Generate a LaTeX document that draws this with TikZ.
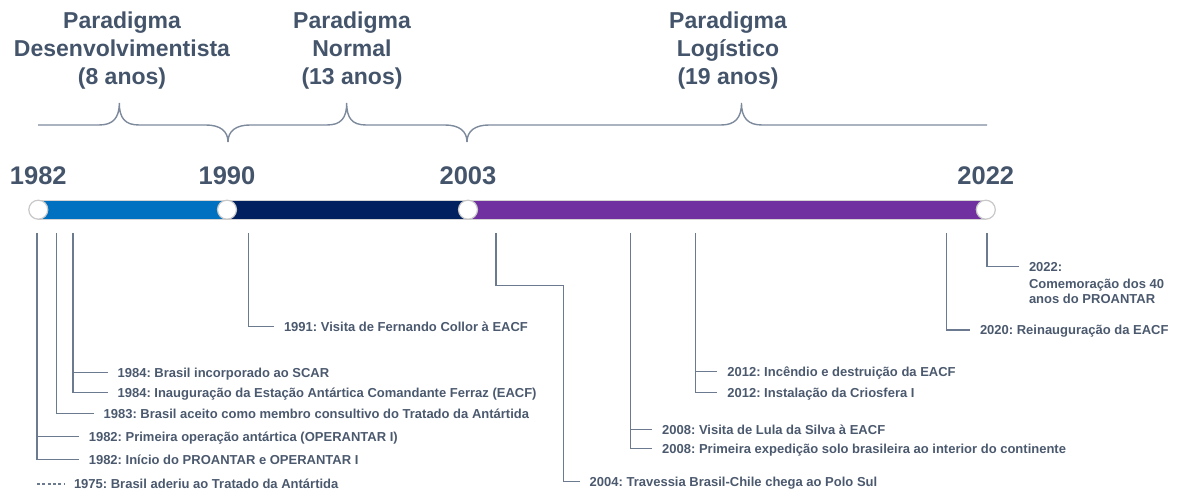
\documentclass[tikz,border=0pt]{standalone}
\usepackage{fontspec}
\setmainfont{Liberation Sans}
\frenchspacing
\definecolor{slate}{HTML}{44546A}
\definecolor{labc}{HTML}{4B596E}
\definecolor{linec}{HTML}{6B7A8F}
\definecolor{bracec}{HTML}{7D8A9C}
\definecolor{dotc}{HTML}{C8C8C8}
\definecolor{barline}{HTML}{D4D4D4}
\definecolor{barb}{HTML}{0070C0}
\definecolor{barn}{HTML}{002060}
\definecolor{barp}{HTML}{7030A0}
\begin{document}
\begin{tikzpicture}[x=1pt,y=-1pt,
  ttl/.style={font=\bfseries\fontsize{23}{28.3}\selectfont, text=slate, align=center, inner sep=0pt, anchor=north},
  yr/.style={font=\bfseries\fontsize{25.5}{30}\selectfont, text=slate, inner sep=0pt, anchor=base},
  lab/.style={font=\bfseries\fontsize{13}{15.8}\selectfont, text=labc, inner sep=0pt, outer sep=10pt, anchor=west, text height=9.4pt, text depth=0pt},
  conn/.style={draw=linec, line width=1.2pt},
  brace/.style={draw=bracec, line width=1.4pt},
  dot/.style={circle, fill=white, draw=dotc, line width=1.2pt, minimum size=19pt, inner sep=0pt}
]
\useasboundingbox (0,0) rectangle (1179,495);

% titles
\node[ttl] (t1) at (122,11.5) {Paradigma\\Desenvolvimentista\\(8 anos)};
\node[ttl] (t2) at (352,11.5) {Paradigma\\Normal\\(13 anos)};
\node[ttl] (t3) at (728,11.5) {Paradigma\\Logístico\\(19 anos)};

% braces
\draw[brace] (38,125) -- (99,125) .. controls (113,125) and (119.3,118) .. (119.3,103)
  .. controls (119.3,118) and (125,125) .. (139,125) -- (206,125)
  .. controls (220,125) and (228,131) .. (228,142);
\draw[brace] (228,142) .. controls (228,131) and (236,125) .. (250,125) -- (327,125)
  .. controls (341,125) and (346.7,118) .. (346.7,103)
  .. controls (346.7,118) and (352,125) .. (366,125) -- (445,125)
  .. controls (459,125) and (467,131) .. (467,142);
\draw[brace] (467,142) .. controls (467,131) and (475,125) .. (489,125) -- (721,125)
  .. controls (735,125) and (741.5,118) .. (741.5,103)
  .. controls (741.5,118) and (748,125) .. (762,125) -- (987,125);

% years
\node[yr] (y1982) at (38.3,184) {1982};
\node[yr] (y1990) at (227,184) {1990};
\node[yr] (y2003) at (468,184) {2003};
\node[yr] (y2022) at (985.8,184) {2022};

% bar
\coordinate (p1982) at (38.3,209.7);
\coordinate (p1990) at (227,209.7);
\coordinate (p2003) at (468,209.7);
\coordinate (p2022) at (985.8,209.7);
\draw[barline, line width=20pt] (p1982) -- (p2022);
\draw[barb, line width=18pt] (p1982) -- (p1990);
\draw[barn, line width=18pt] (p1990) -- (p2003);
\draw[barp, line width=18pt] (p2003) -- (p2022);
\node[dot] (c1982) at (p1982) {};
\node[dot] (c1990) at (p1990) {};
\node[dot] (c2003) at (p2003) {};
\node[dot] (c2022) at (p2022) {};

% tick tops
\coordinate (k1982) at (37,233);
\coordinate (k1983) at (56.6,233);
\coordinate (k1984) at (72.9,233);
\coordinate (k1991) at (248.6,233);
\coordinate (k2004) at (496,233);
\coordinate (b2004) at (563.5,285.5);
\coordinate (k2008) at (630.8,233);
\coordinate (k2012) at (695.8,233);
\coordinate (k2020) at (946.6,233);
\coordinate (k2022) at (987,233);
\coordinate (d1975) at (37,484);

% labels
\node[lab] (l1991) at (274,326.7) {1991: Visita de Fernando Collor à EACF};
\node[lab] (l1984a) at (107.6,372.7) {1984: Brasil incorporado ao SCAR};
\node[lab] (l1984b) at (107.6,392.7) {1984: Inauguração da Estação Antártica Comandante Ferraz (EACF)};
\node[lab] (l1983) at (93.6,413.3) {1983: Brasil aceito como membro consultivo do Tratado da Antártida};
\node[lab] (l1982a) at (78.8,436.7) {1982: Primeira operação antártica (OPERANTAR I)};
\node[lab] (l1982b) at (78.8,459.3) {1982: Início do PROANTAR e OPERANTAR I};
\node[lab] (l1975) at (64,484) {1975: Brasil aderiu ao Tratado da Antártida};
\node[lab] (l2004) at (579.7,481.7) {2004: Travessia Brasil-Chile chega ao Polo Sul};
\node[lab] (l2008a) at (652.2,429.3) {2008: Visita de Lula da Silva à EACF};
\node[lab] (l2008b) at (652.2,448.3) {2008: Primeira expedição solo brasileira ao interior do continente};
\node[lab] (l2012a) at (717.4,371.7) {2012: Incêndio e destruição da EACF};
\node[lab] (l2012b) at (717.4,392.7) {2012: Instalação da Criosfera I};
\node[lab] (l2020) at (970,330) {2020: Reinauguração da EACF};
\node[lab] (l2022) at (1019,266.7) {2022:};
\node[lab] (l2022b) at (1019,283.3) {Comemoração dos 40};
\node[lab] (l2022c) at (1019,298.3) {anos do PROANTAR};

% connectors
\draw[conn] (k1982) |- (l1982a.west);
\draw[conn] (k1982) |- (l1982b.west);
\draw[conn] (k1983) |- (l1983.west);
\draw[conn] (k1984) |- (l1984a.west);
\draw[conn] (k1984) |- (l1984b.west);
\draw[conn] (k1991) |- (l1991.west);
\draw[conn] (k2004) |- (b2004) |- (l2004.west);
\draw[conn] (k2008) |- (l2008a.west);
\draw[conn] (k2008) |- (l2008b.west);
\draw[conn] (k2012) |- (l2012a.west);
\draw[conn] (k2012) |- (l2012b.west);
\draw[conn] (k2020) |- (l2020.west);
\draw[conn] (k2022) |- (l2022.west);
\draw[conn, dash pattern=on 3pt off 2.3pt] (d1975) -- (l1975.west);
\end{tikzpicture}
\end{document}
